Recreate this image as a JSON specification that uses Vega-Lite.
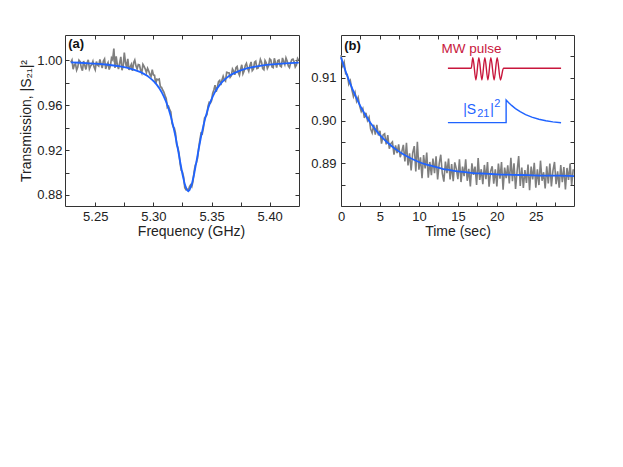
{
  "$schema": "https://vega.github.io/schema/vega-lite/v6.json",
  "padding": {"left": 19, "top": 34, "right": 0, "bottom": 0},
  "spacing": 7,
  "config": {
    "view": {"stroke": "#333333", "strokeWidth": 1},
    "axis": {"labelFont": "Liberation Sans", "titleFont": "Liberation Sans", "labelFontSize": 13, "titleFontSize": 14, "titleFontWeight": "normal", "labelColor": "#222222", "titleColor": "#222222", "tickColor": "#333333", "tickSize": -4, "tickWidth": 1, "domain": false, "grid": false, "labelOverlap": false, "labelFlush": false},
    "text": {"font": "Liberation Sans"}
  },
  "datasets": {
    "scan": [
      {"f":5.229,"s":0.9981},{"f":5.231,"s":0.9920},{"f":5.233,"s":0.9970},{"f":5.235,"s":0.9939},{"f":5.237,"s":0.9988},{"f":5.239,"s":0.9907},{"f":5.241,"s":0.9956},{"f":5.243,"s":0.9975},{"f":5.245,"s":0.9923},{"f":5.247,"s":0.9962},
      {"f":5.249,"s":0.9941},{"f":5.251,"s":0.9989},{"f":5.253,"s":0.9948},{"f":5.255,"s":0.9966},{"f":5.257,"s":0.9994},{"f":5.259,"s":0.9922},{"f":5.261,"s":0.9980},{"f":5.263,"s":0.9948},{"f":5.265,"s":1.0005},{"f":5.267,"s":0.9932},
      {"f":5.269,"s":0.9959},{"f":5.271,"s":0.9976},{"f":5.273,"s":0.9912},{"f":5.275,"s":1.0068},{"f":5.277,"s":0.9934},{"f":5.279,"s":0.9915},{"f":5.281,"s":0.9963},{"f":5.283,"s":0.9977},{"f":5.285,"s":0.9950},{"f":5.287,"s":0.9962},
      {"f":5.289,"s":0.9914},{"f":5.291,"s":0.9963},{"f":5.293,"s":0.9922},{"f":5.295,"s":0.9929},{"f":5.297,"s":0.9873},{"f":5.299,"s":0.9916},{"f":5.301,"s":0.9865},{"f":5.303,"s":0.9831},{"f":5.305,"s":0.9832},{"f":5.307,"s":0.9758},
      {"f":5.309,"s":0.9717},{"f":5.311,"s":0.9659},{"f":5.313,"s":0.9590},{"f":5.315,"s":0.9540},{"f":5.317,"s":0.9407},{"f":5.319,"s":0.9351},{"f":5.321,"s":0.9222},{"f":5.323,"s":0.9077},{"f":5.325,"s":0.9005},{"f":5.327,"s":0.8864},
      {"f":5.329,"s":0.8852},{"f":5.331,"s":0.8872},{"f":5.333,"s":0.8874},{"f":5.335,"s":0.9005},{"f":5.337,"s":0.9087},{"f":5.339,"s":0.9222},{"f":5.341,"s":0.9351},{"f":5.343,"s":0.9397},{"f":5.345,"s":0.9500},{"f":5.347,"s":0.9590},
      {"f":5.349,"s":0.9619},{"f":5.351,"s":0.9707},{"f":5.353,"s":0.9778},{"f":5.355,"s":0.9762},{"f":5.357,"s":0.9821},{"f":5.359,"s":0.9825},{"f":5.361,"s":0.9826},{"f":5.363,"s":0.9893},{"f":5.365,"s":0.9889},{"f":5.367,"s":0.9862},
      {"f":5.369,"s":0.9903},{"f":5.371,"s":0.9934},{"f":5.373,"s":0.9892},{"f":5.375,"s":0.9920},{"f":5.377,"s":0.9880},{"f":5.379,"s":0.9953},{"f":5.381,"s":0.9929},{"f":5.383,"s":0.9954},{"f":5.385,"s":0.9908},{"f":5.387,"s":0.9982},
      {"f":5.389,"s":0.9926},{"f":5.391,"s":0.9959},{"f":5.393,"s":0.9982},{"f":5.395,"s":0.9915},{"f":5.397,"s":0.9978},{"f":5.399,"s":0.9950},{"f":5.401,"s":1.0002},{"f":5.403,"s":0.9934},{"f":5.405,"s":0.9976},{"f":5.407,"s":0.9998},
      {"f":5.409,"s":0.9949},{"f":5.411,"s":1.0021},{"f":5.413,"s":0.9962},{"f":5.415,"s":0.9993},{"f":5.417,"s":0.9935},{"f":5.419,"s":1.0006},{"f":5.421,"s":0.9987},{"f":5.423,"s":0.9958},{"f":5.425,"s":0.9999},
      {"f":5.230,"s":1.0002},{"f":5.232,"s":0.9958},{"f":5.234,"s":0.9912},{"f":5.236,"s":1.0001},{"f":5.238,"s":0.9935},{"f":5.240,"s":0.9993},{"f":5.242,"s":0.9918},{"f":5.244,"s":1.0004},{"f":5.246,"s":0.9949},{"f":5.248,"s":0.9990},
      {"f":5.250,"s":0.9915},{"f":5.252,"s":0.9957},{"f":5.254,"s":1.0008},{"f":5.256,"s":0.9930},{"f":5.258,"s":1.0012},{"f":5.260,"s":0.9958},{"f":5.262,"s":0.9917},{"f":5.264,"s":1.0021},{"f":5.266,"s":1.0105},{"f":5.268,"s":1.0035},
      {"f":5.270,"s":0.9921},{"f":5.272,"s":1.0030},{"f":5.274,"s":0.9947},{"f":5.276,"s":0.9980},{"f":5.278,"s":1.0012},{"f":5.280,"s":0.9940},{"f":5.282,"s":0.9905},{"f":5.284,"s":1.0001},{"f":5.286,"s":0.9922},{"f":5.288,"s":0.9958},
      {"f":5.290,"s":0.9888},{"f":5.292,"s":0.9945},{"f":5.294,"s":0.9890},{"f":5.296,"s":0.9905},{"f":5.298,"s":0.9856},{"f":5.300,"s":0.9870},{"f":5.302,"s":0.9790},{"f":5.304,"s":0.9826},{"f":5.306,"s":0.9765},{"f":5.308,"s":0.9735},
      {"f":5.310,"s":0.9685},{"f":5.312,"s":0.9580},{"f":5.314,"s":0.9560},{"f":5.316,"s":0.9440},{"f":5.318,"s":0.9395},{"f":5.320,"s":0.9250},{"f":5.322,"s":0.9175},{"f":5.324,"s":0.9020},{"f":5.326,"s":0.8960},{"f":5.328,"s":0.8848},
      {"f":5.330,"s":0.8838},{"f":5.332,"s":0.8890},{"f":5.334,"s":0.8920},{"f":5.336,"s":0.9065},{"f":5.338,"s":0.9130},{"f":5.340,"s":0.9290},{"f":5.342,"s":0.9345},{"f":5.344,"s":0.9485},{"f":5.346,"s":0.9515},{"f":5.348,"s":0.9625},
      {"f":5.350,"s":0.9640},{"f":5.352,"s":0.9735},{"f":5.354,"s":0.9720},{"f":5.356,"s":0.9810},{"f":5.358,"s":0.9780},{"f":5.360,"s":0.9858},{"f":5.362,"s":0.9815},{"f":5.364,"s":0.9890},{"f":5.366,"s":0.9848},{"f":5.368,"s":0.9922},
      {"f":5.370,"s":0.9870},{"f":5.372,"s":0.9945},{"f":5.374,"s":0.9868},{"f":5.376,"s":0.9960},{"f":5.378,"s":0.9905},{"f":5.380,"s":0.9972},{"f":5.382,"s":0.9902},{"f":5.384,"s":0.9985},{"f":5.386,"s":0.9921},{"f":5.388,"s":0.9992},
      {"f":5.390,"s":0.9930},{"f":5.392,"s":1.0008},{"f":5.394,"s":0.9925},{"f":5.396,"s":0.9998},{"f":5.398,"s":0.9928},{"f":5.400,"s":1.0012},{"f":5.402,"s":0.9940},{"f":5.404,"s":1.0018},{"f":5.406,"s":0.9935},{"f":5.408,"s":1.0003},
      {"f":5.410,"s":0.9942},{"f":5.412,"s":0.9989},{"f":5.414,"s":1.0020},{"f":5.416,"s":0.9950},{"f":5.418,"s":0.9975},{"f":5.420,"s":1.0010},{"f":5.422,"s":0.9940},{"f":5.424,"s":1.0015}
    ],
    "scanFit": [
      {"f":5.229,"s":0.9981},{"f":5.237,"s":0.9978},{"f":5.245,"s":0.9973},{"f":5.253,"s":0.9968},{"f":5.261,"s":0.9960},{"f":5.269,"s":0.9949},{"f":5.277,"s":0.9934},{"f":5.283,"s":0.9917},{"f":5.289,"s":0.9894},
      {"f":5.291,"s":0.9883},{"f":5.293,"s":0.9872},{"f":5.295,"s":0.9859},{"f":5.297,"s":0.9843},{"f":5.299,"s":0.9826},{"f":5.301,"s":0.9805},{"f":5.303,"s":0.9781},{"f":5.305,"s":0.9752},{"f":5.307,"s":0.9718},{"f":5.309,"s":0.9677},
      {"f":5.311,"s":0.9629},{"f":5.313,"s":0.9570},{"f":5.315,"s":0.9500},{"f":5.317,"s":0.9417},{"f":5.319,"s":0.9321},{"f":5.321,"s":0.9212},{"f":5.323,"s":0.9097},{"f":5.325,"s":0.8985},{"f":5.327,"s":0.8894},{"f":5.329,"s":0.8842},
      {"f":5.330,"s":0.8835},{"f":5.331,"s":0.8842},{"f":5.333,"s":0.8894},{"f":5.335,"s":0.8985},{"f":5.337,"s":0.9097},{"f":5.339,"s":0.9212},{"f":5.341,"s":0.9321},{"f":5.343,"s":0.9417},{"f":5.345,"s":0.9500},{"f":5.347,"s":0.9570},
      {"f":5.349,"s":0.9629},{"f":5.351,"s":0.9677},{"f":5.353,"s":0.9718},{"f":5.355,"s":0.9752},{"f":5.357,"s":0.9781},{"f":5.359,"s":0.9805},{"f":5.361,"s":0.9826},{"f":5.363,"s":0.9843},{"f":5.365,"s":0.9859},{"f":5.367,"s":0.9872},
      {"f":5.369,"s":0.9883},{"f":5.375,"s":0.9910},{"f":5.381,"s":0.9929},{"f":5.389,"s":0.9946},{"f":5.397,"s":0.9958},{"f":5.405,"s":0.9966},{"f":5.413,"s":0.9972},{"f":5.421,"s":0.9977},{"f":5.425,"s":0.9979}
    ],
    "decay": [
      {"t":0,"v":0.9153},{"t":0.2,"v":0.9128},{"t":0.4,"v":0.9137},{"t":0.6,"v":0.9109},{"t":0.8,"v":0.9108},{"t":1.0,"v":0.9085},{"t":1.2,"v":0.9093},{"t":1.4,"v":0.9072},{"t":1.6,"v":0.9056},{"t":1.8,"v":0.9066},
      {"t":2.0,"v":0.9045},{"t":2.2,"v":0.9054},{"t":2.4,"v":0.9034},{"t":2.6,"v":0.9021},{"t":2.8,"v":0.9028},{"t":3.0,"v":0.9006},{"t":3.2,"v":0.9018},{"t":3.4,"v":0.9000},{"t":3.6,"v":0.9008},{"t":3.8,"v":0.8980},
      {"t":4.0,"v":0.8971},{"t":4.2,"v":0.8990},{"t":4.4,"v":0.8967},{"t":4.6,"v":0.8990},{"t":4.8,"v":0.8965},{"t":5.0,"v":0.8976},{"t":5.2,"v":0.8946},{"t":5.4,"v":0.8966},{"t":5.6,"v":0.8969},{"t":5.8,"v":0.8944},
      {"t":6.0,"v":0.8966},{"t":6.2,"v":0.8934},{"t":6.4,"v":0.8946},{"t":6.6,"v":0.8950},{"t":6.8,"v":0.8920},{"t":7.0,"v":0.8942},{"t":7.2,"v":0.8924},{"t":7.4,"v":0.8944},{"t":7.6,"v":0.8914},{"t":7.8,"v":0.8927},
      {"t":8.0,"v":0.8943},{"t":8.2,"v":0.8904},{"t":8.4,"v":0.8948},{"t":8.6,"v":0.8895},{"t":8.8,"v":0.8923},{"t":9.0,"v":0.8883},{"t":9.2,"v":0.8924},{"t":9.4,"v":0.8940},{"t":9.6,"v":0.8881},{"t":9.8,"v":0.8950},
      {"t":10.0,"v":0.8885},{"t":10.2,"v":0.8914},{"t":10.4,"v":0.8865},{"t":10.6,"v":0.8919},{"t":10.8,"v":0.8888},{"t":11.0,"v":0.8925},{"t":11.2,"v":0.8866},{"t":11.4,"v":0.8903},{"t":11.6,"v":0.8872},{"t":11.8,"v":0.8911},
      {"t":12.0,"v":0.8877},{"t":12.2,"v":0.8916},{"t":12.4,"v":0.8862},{"t":12.6,"v":0.8899},{"t":12.8,"v":0.8920},{"t":13.0,"v":0.8876},{"t":13.2,"v":0.8857},{"t":13.4,"v":0.8904},{"t":13.6,"v":0.8877},{"t":13.8,"v":0.8911},
      {"t":14.0,"v":0.8862},{"t":14.2,"v":0.8898},{"t":14.4,"v":0.8858},{"t":14.6,"v":0.8902},{"t":14.8,"v":0.8887},{"t":15.0,"v":0.8863},{"t":15.2,"v":0.8909},{"t":15.4,"v":0.8856},{"t":15.6,"v":0.8892},{"t":15.8,"v":0.8870},
      {"t":16.0,"v":0.8909},{"t":16.2,"v":0.8859},{"t":16.4,"v":0.8887},{"t":16.6,"v":0.8846},{"t":16.8,"v":0.8900},{"t":17.0,"v":0.8873},{"t":17.2,"v":0.8892},{"t":17.4,"v":0.8849},{"t":17.6,"v":0.8912},{"t":17.8,"v":0.8861},
      {"t":18.0,"v":0.8886},{"t":18.2,"v":0.8851},{"t":18.4,"v":0.8896},{"t":18.6,"v":0.8863},{"t":18.8,"v":0.8903},{"t":19.0,"v":0.8845},{"t":19.2,"v":0.8881},{"t":19.4,"v":0.8893},{"t":19.6,"v":0.8852},{"t":19.8,"v":0.8886},
      {"t":20.0,"v":0.8846},{"t":20.2,"v":0.8899},{"t":20.4,"v":0.8864},{"t":20.6,"v":0.8903},{"t":20.8,"v":0.8838},{"t":21.0,"v":0.8890},{"t":21.2,"v":0.8865},{"t":21.4,"v":0.8895},{"t":21.6,"v":0.8853},{"t":21.8,"v":0.8913},
      {"t":22.0,"v":0.8858},{"t":22.2,"v":0.8900},{"t":22.4,"v":0.8840},{"t":22.6,"v":0.8882},{"t":22.8,"v":0.8917},{"t":23.0,"v":0.8847},{"t":23.2,"v":0.8890},{"t":23.4,"v":0.8842},{"t":23.6,"v":0.8884},{"t":23.8,"v":0.8854},
      {"t":24.0,"v":0.8897},{"t":24.2,"v":0.8837},{"t":24.4,"v":0.8892},{"t":24.6,"v":0.8862},{"t":24.8,"v":0.8901},{"t":25.0,"v":0.8843},{"t":25.2,"v":0.8886},{"t":25.4,"v":0.8849},{"t":25.6,"v":0.8906},{"t":25.8,"v":0.8859},
      {"t":26.0,"v":0.8879},{"t":26.2,"v":0.8841},{"t":26.4,"v":0.8893},{"t":26.6,"v":0.8853},{"t":26.8,"v":0.8899},{"t":27.0,"v":0.8846},{"t":27.2,"v":0.8883},{"t":27.4,"v":0.8903},{"t":27.6,"v":0.8851},{"t":27.8,"v":0.8881},
      {"t":28.0,"v":0.8843},{"t":28.2,"v":0.8896},{"t":28.4,"v":0.8856},{"t":28.6,"v":0.8891},{"t":28.8,"v":0.8839},{"t":29.0,"v":0.8889},{"t":29.2,"v":0.8861},{"t":29.4,"v":0.8899},{"t":29.6,"v":0.8849},{"t":29.8,"v":0.8886}
    ],
    "decayFit": [
      {"t":0,"v":0.9148},{"t":0.5,"v":0.9120},{"t":1,"v":0.9095},{"t":1.5,"v":0.9072},{"t":2,"v":0.9052},{"t":2.5,"v":0.9033},{"t":3,"v":0.9017},{"t":3.5,"v":0.9002},{"t":4,"v":0.8989},{"t":4.5,"v":0.8977},
      {"t":5,"v":0.8966},{"t":6,"v":0.8948},{"t":7,"v":0.8933},{"t":8,"v":0.8921},{"t":9,"v":0.8911},{"t":10,"v":0.8903},{"t":11,"v":0.8897},{"t":12,"v":0.8892},{"t":13,"v":0.8887},{"t":14,"v":0.8884},
      {"t":15,"v":0.8881},{"t":16,"v":0.8879},{"t":17,"v":0.8877},{"t":18,"v":0.8876},{"t":19,"v":0.8875},{"t":20,"v":0.8874},{"t":22,"v":0.8873},{"t":24,"v":0.8872},{"t":26,"v":0.8871},{"t":28,"v":0.8871},{"t":29.9,"v":0.8870}
    ],
    "pulse": [
      {"t":13.72,"v":0.91222},{"t":16.71,"v":0.91222},{"t":16.92,"v":0.9147},{"t":17.31,"v":0.90949},{"t":17.69,"v":0.9147},{"t":18.08,"v":0.90949},{"t":18.46,"v":0.9147},
      {"t":18.85,"v":0.90949},{"t":19.23,"v":0.9147},{"t":19.65,"v":0.90949},{"t":20.04,"v":0.9147},{"t":20.46,"v":0.90949},{"t":20.85,"v":0.91222},{"t":28.24,"v":0.91222}
    ],
    "sketch": [
      {"o":0,"t":13.72,"v":0.89951},{"o":1,"t":21.19,"v":0.89951},{"o":2,"t":21.19,"v":0.90481},{"o":3,"t":21.49,"v":0.90422},{"o":4,"t":21.89,"v":0.90353},{"o":5,"t":22.39,"v":0.90278},
      {"o":6,"t":22.99,"v":0.90206},{"o":7,"t":23.69,"v":0.90138},{"o":8,"t":24.49,"v":0.90079},{"o":9,"t":25.39,"v":0.90030},{"o":10,"t":26.29,"v":0.89994},{"o":11,"t":27.19,"v":0.89968},{"o":12,"t":28.24,"v":0.89946}
    ],
    "tagA": [{"f":5.2268,"s":1.0194,"txt":"(a)"}],
    "tagB": [{"t":0.42,"v":0.9188,"txt":"(b)"}],
    "pulseText": [{"t":16.75,"v":0.91572,"txt":"MW pulse"}],
    "sketchMain": [{"t":15.68,"v":0.90147,"txt":"|S"},{"t":19.15,"v":0.90147,"txt":"|"}],
    "sketchSmall": [{"t":17.47,"v":0.90077,"txt":"21"},{"t":19.68,"v":0.90320,"txt":"2"}]
  },
  "hconcat": [
    {
      "width": 234,
      "height": 171,
      "layer": [
        {
          "data": {"name": "scan"},
          "mark": {"type": "line", "color": "#7f7f7f", "strokeWidth": 1.7},
          "encoding": {
            "x": {"field": "f", "type": "quantitative", "scale": {"domain": [5.224, 5.4252], "nice": false, "zero": false},
              "axis": {"orient": "bottom", "values": [5.25, 5.275, 5.3, 5.325, 5.35, 5.375, 5.4], "labelExpr": "round(datum.value*1000) % 50 == 0 ? format(datum.value, '.2f') : ''", "labelPadding": 8, "title": "Frequency (GHz)", "titlePadding": 1, "titleX": 126}},
            "y": {"field": "s", "type": "quantitative", "scale": {"domain": [0.8702, 1.0225], "nice": false, "zero": false},
              "axis": {"orient": "left", "values": [0.88, 0.9, 0.92, 0.94, 0.96, 0.98, 1.0], "labelExpr": "round(datum.value*100) % 4 == 0 ? format(datum.value, '.2f') : ''", "labelPadding": 7, "title": "Transmission, |S₂₁|²", "titlePadding": 3}}
          }
        },
        {
          "data": {"name": "scanFit"},
          "mark": {"type": "line", "color": "#1f63ff", "strokeWidth": 1.8},
          "encoding": {
            "x": {"field": "f", "type": "quantitative", "scale": {"domain": [5.224, 5.4252], "nice": false, "zero": false},
              "axis": {"orient": "top", "values": [5.25, 5.275, 5.3, 5.325, 5.35, 5.375, 5.4], "labels": false, "title": null}},
            "y": {"field": "s", "type": "quantitative", "scale": {"domain": [0.8702, 1.0225], "nice": false, "zero": false},
              "axis": {"orient": "right", "values": [0.88, 0.9, 0.92, 0.94, 0.96, 0.98, 1.0], "labels": false, "title": null}}
          }
        },
        {
          "data": {"name": "tagA"},
          "mark": {"type": "text", "align": "left", "baseline": "top", "fontSize": 13, "fontWeight": "bold", "color": "#111111"},
          "encoding": {
            "x": {"field": "f", "type": "quantitative", "axis": null},
            "y": {"field": "s", "type": "quantitative", "axis": null},
            "text": {"field": "txt"}
          }
        }
      ],
      "resolve": {"axis": {"x": "independent", "y": "independent"}}
    },
    {
      "width": 233,
      "height": 171,
      "layer": [
        {
          "data": {"name": "decay"},
          "mark": {"type": "line", "color": "#7f7f7f", "strokeWidth": 1.6},
          "encoding": {
            "x": {"field": "t", "type": "quantitative", "scale": {"domain": [0, 29.9], "nice": false, "zero": false},
              "axis": {"orient": "bottom", "values": [0, 2.5, 5, 7.5, 10, 12.5, 15, 17.5, 20, 22.5, 25, 27.5], "labelExpr": "round(datum.value*10) % 50 == 0 ? format(datum.value, 'd') : ''", "labelPadding": 8, "title": "Time (sec)", "titlePadding": 1}},
            "y": {"field": "v", "type": "quantitative", "scale": {"domain": [0.88, 0.92], "nice": false, "zero": false},
              "axis": {"orient": "left", "values": [0.885, 0.89, 0.895, 0.9, 0.905, 0.91, 0.915], "labelExpr": "round(datum.value*1000) % 10 == 0 ? format(datum.value, '.2f') : ''", "labelPadding": 9, "title": null}}
          }
        },
        {
          "data": {"name": "decayFit"},
          "mark": {"type": "line", "color": "#1f63ff", "strokeWidth": 1.8, "interpolate": "monotone"},
          "encoding": {
            "x": {"field": "t", "type": "quantitative", "scale": {"domain": [0, 29.9], "nice": false, "zero": false},
              "axis": {"orient": "top", "values": [2.5, 5, 7.5, 10, 12.5, 15, 17.5, 20, 22.5, 25, 27.5], "labels": false, "title": null}},
            "y": {"field": "v", "type": "quantitative", "scale": {"domain": [0.88, 0.92], "nice": false, "zero": false},
              "axis": {"orient": "right", "values": [0.885, 0.89, 0.895, 0.9, 0.905, 0.91, 0.915], "labels": false, "title": null}}
          }
        },
        {
          "data": {"name": "pulse"},
          "mark": {"type": "line", "color": "#c8163c", "strokeWidth": 1.4, "interpolate": "monotone"},
          "encoding": {
            "x": {"field": "t", "type": "quantitative", "axis": null},
            "y": {"field": "v", "type": "quantitative", "axis": null}
          }
        },
        {
          "data": {"name": "sketch"},
          "mark": {"type": "line", "color": "#1f63ff", "strokeWidth": 1.4},
          "encoding": {
            "x": {"field": "t", "type": "quantitative", "axis": null},
            "y": {"field": "v", "type": "quantitative", "axis": null},
            "order": {"field": "o", "type": "quantitative"}
          }
        },
        {
          "data": {"name": "pulseText"},
          "mark": {"type": "text", "align": "center", "baseline": "alphabetic", "fontSize": 13.5, "color": "#c8163c"},
          "encoding": {
            "x": {"field": "t", "type": "quantitative", "axis": null},
            "y": {"field": "v", "type": "quantitative", "axis": null},
            "text": {"field": "txt"}
          }
        },
        {
          "data": {"name": "sketchMain"},
          "mark": {"type": "text", "align": "left", "baseline": "alphabetic", "fontSize": 14, "color": "#1f63ff"},
          "encoding": {
            "x": {"field": "t", "type": "quantitative", "axis": null},
            "y": {"field": "v", "type": "quantitative", "axis": null},
            "text": {"field": "txt"}
          }
        },
        {
          "data": {"name": "sketchSmall"},
          "mark": {"type": "text", "align": "left", "baseline": "alphabetic", "fontSize": 11, "color": "#1f63ff"},
          "encoding": {
            "x": {"field": "t", "type": "quantitative", "axis": null},
            "y": {"field": "v", "type": "quantitative", "axis": null},
            "text": {"field": "txt"}
          }
        },
        {
          "data": {"name": "tagB"},
          "mark": {"type": "text", "align": "left", "baseline": "top", "fontSize": 13, "fontWeight": "bold", "color": "#111111"},
          "encoding": {
            "x": {"field": "t", "type": "quantitative", "axis": null},
            "y": {"field": "v", "type": "quantitative", "axis": null},
            "text": {"field": "txt"}
          }
        }
      ],
      "resolve": {"axis": {"x": "independent", "y": "independent"}}
    }
  ]
}
